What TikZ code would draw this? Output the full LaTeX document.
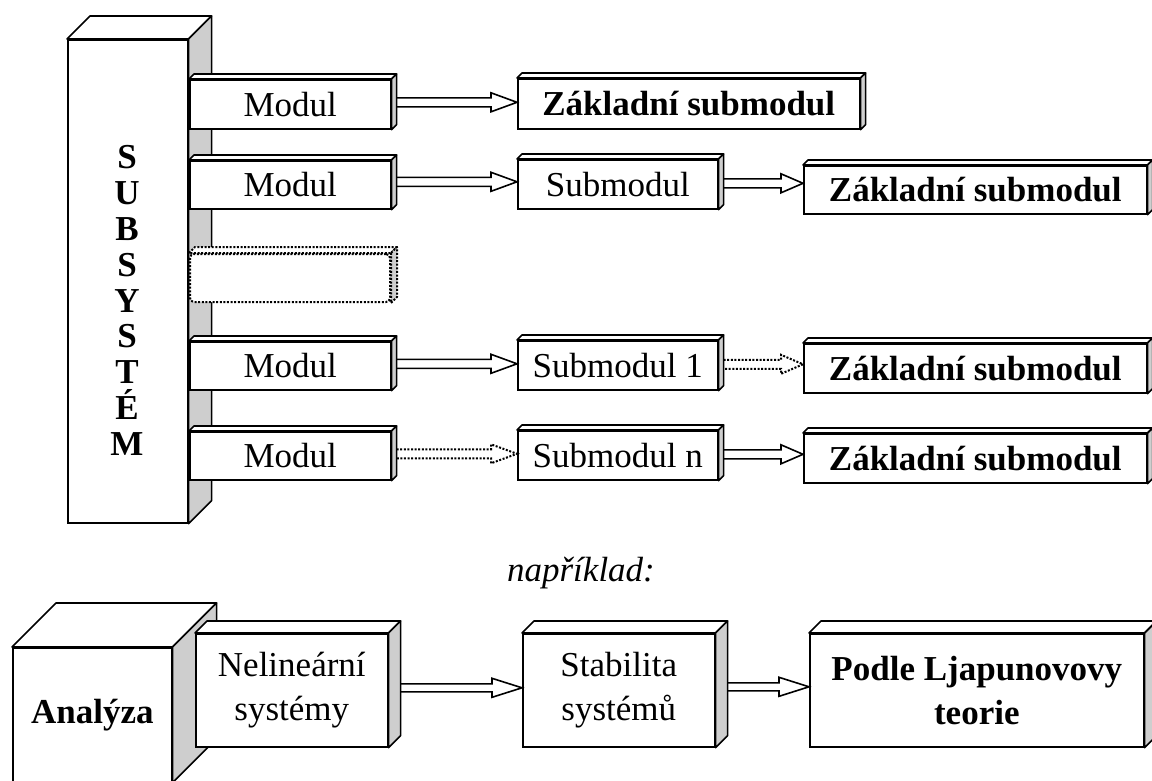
\documentclass[tikz,border=0pt]{standalone}
\usepackage{fontspec}
\setmainfont{Liberation Serif}
\usetikzlibrary{calc}
\definecolor{sidegray}{RGB}{206,206,206}
\tikzset{
  lw/.style={line width=1.6pt},
  fnt/.style={font=\fontsize{35}{44}\selectfont},
  box/.style={draw, lw, fill=white, inner sep=0pt, anchor=north west, fnt, align=center},
  dotline/.style={line width=2pt, dash pattern=on 2pt off 1.6pt},
  dotbox/.style={draw, dotline, fill=white, inner sep=0pt, anchor=north west, rounded corners=4pt},
  arr/.style={lw, line join=miter},
  darr/.style={dotline, line join=miter},
}
\newcommand{\boxfaces}[3][]{%
  \draw[lw, fill=white, line join=round, #1] (#2.north west) -- ++(#3,-#3) -- ($(#2.north east)+(#3,-#3)$) -- (#2.north east) -- cycle;
  \draw[lw, fill=sidegray, line join=round, #1] (#2.north east) -- ++(#3,-#3) -- ($(#2.south east)+(#3,-#3)$) -- (#2.south east) -- cycle;
}
% style, from, to, start offset, head length, lift, shaft half, head half
\newcommand{\blockarrow}[8]{%
  \draw[#1] let \p1=(#2.east), \p2=(#3.west) in
    (\x1+#4pt, \y1+#6pt+#7pt) -- (\x2-#5pt, \y1+#6pt+#7pt) -- (\x2-#5pt, \y1+#6pt+#8pt)
    -- (\x2, \y1+#6pt) -- (\x2-#5pt, \y1+#6pt-#8pt) -- (\x2-#5pt, \y1+#6pt-#7pt)
    -- (\x1+#4pt, \y1+#6pt-#7pt);
}
\begin{document}
\begin{tikzpicture}[x=1pt, y=-1pt]
\useasboundingbox (0,0) rectangle (1152,780);

% subsystem column
\node[box, minimum width=120pt, minimum height=483pt] (sub) at (67,39) {};
\boxfaces{sub}{23}
\node[font=\fontsize{35}{35.9}\selectfont\bfseries, align=center] (subtxt) at (127,300.5) {S\\U\\B\\S\\Y\\S\\T\\É\\M};

% modules
\node[box, minimum width=201pt, minimum height=49pt] (m1) at (189,79) {Modul};
\boxfaces{m1}{5}
\node[box, minimum width=201pt, minimum height=48pt] (m2) at (189,160) {Modul};
\boxfaces{m2}{5}
\node[dotbox, minimum width=200pt, minimum height=48pt] (dm) at (189,253) {};
\boxfaces[dotline, line join=round]{dm}{6}
\node[box, minimum width=201pt, minimum height=48pt] (m3) at (189,341) {Modul};
\boxfaces{m3}{5}
\node[box, minimum width=201pt, minimum height=48pt] (m4) at (189,431) {Modul};
\boxfaces{m4}{5}

% submodules
\node[box, minimum width=342pt, minimum height=50pt] (z1) at (517,78) {\textbf{Základní submodul}};
\boxfaces{z1}{5}
\node[box, minimum width=200pt, minimum height=49pt] (s2) at (517,159) {Submodul};
\boxfaces{s2}{5}
\node[box, minimum width=343pt, minimum height=48pt] (z2) at (803,165) {\textbf{Základní submodul}};
\boxfaces{z2}{5}
\node[box, minimum width=200pt, minimum height=49pt] (s3) at (517,340) {Submodul 1};
\boxfaces{s3}{5}
\node[box, minimum width=343pt, minimum height=49pt] (z3) at (803,343) {\textbf{Základní submodul}};
\boxfaces{z3}{5}
\node[box, minimum width=200pt, minimum height=49pt] (s4) at (517,430) {Submodul n};
\boxfaces{s4}{5}
\node[box, minimum width=343pt, minimum height=49pt] (z4) at (803,433) {\textbf{Základní submodul}};
\boxfaces{z4}{5}

% arrows
\blockarrow{arr}{m1}{z1}{5}{26}{2}{4.5}{9.5}
\blockarrow{arr}{m2}{s2}{5}{26}{3}{4.5}{9.5}
\blockarrow{arr}{s2}{z2}{5}{22}{1}{4.5}{9.5}
\blockarrow{arr}{m3}{s3}{5}{26}{2}{4.5}{9.5}
\blockarrow{darr}{s3}{z3}{5}{22}{1}{4.5}{9.5}
\blockarrow{darr}{m4}{s4}{5}{26}{2}{4.5}{9.5}
\blockarrow{arr}{s4}{z4}{5}{22}{1}{4.5}{9.5}

% example
\node[fnt, font=\fontsize{35}{44}\selectfont\itshape] (ex) at (581,573) {například:};

\node[box, minimum width=159pt, minimum height=134pt, font=\fontsize{35}{44}\selectfont\bfseries] (an) at (12,647) {Analýza};
\boxfaces{an}{44}
\node[box, minimum width=192pt, minimum height=113pt] (nel) at (195,633) {Nelineární\\systémy};
\boxfaces{nel}{12}
\node[box, minimum width=192pt, minimum height=113pt] (stab) at (522,633) {Stabilita\\systémů};
\boxfaces{stab}{12}
\node[box, minimum width=334pt, minimum height=113pt, font=\fontsize{35}{44}\selectfont\bfseries] (pod) at (809,633) {Podle Ljapunovovy\\teorie};
\boxfaces{pod}{12}

\blockarrow{arr}{nel}{stab}{12}{30}{2.5}{4}{9.5}
\blockarrow{arr}{stab}{pod}{12}{30}{3.5}{4}{9.5}
\end{tikzpicture}
\end{document}
